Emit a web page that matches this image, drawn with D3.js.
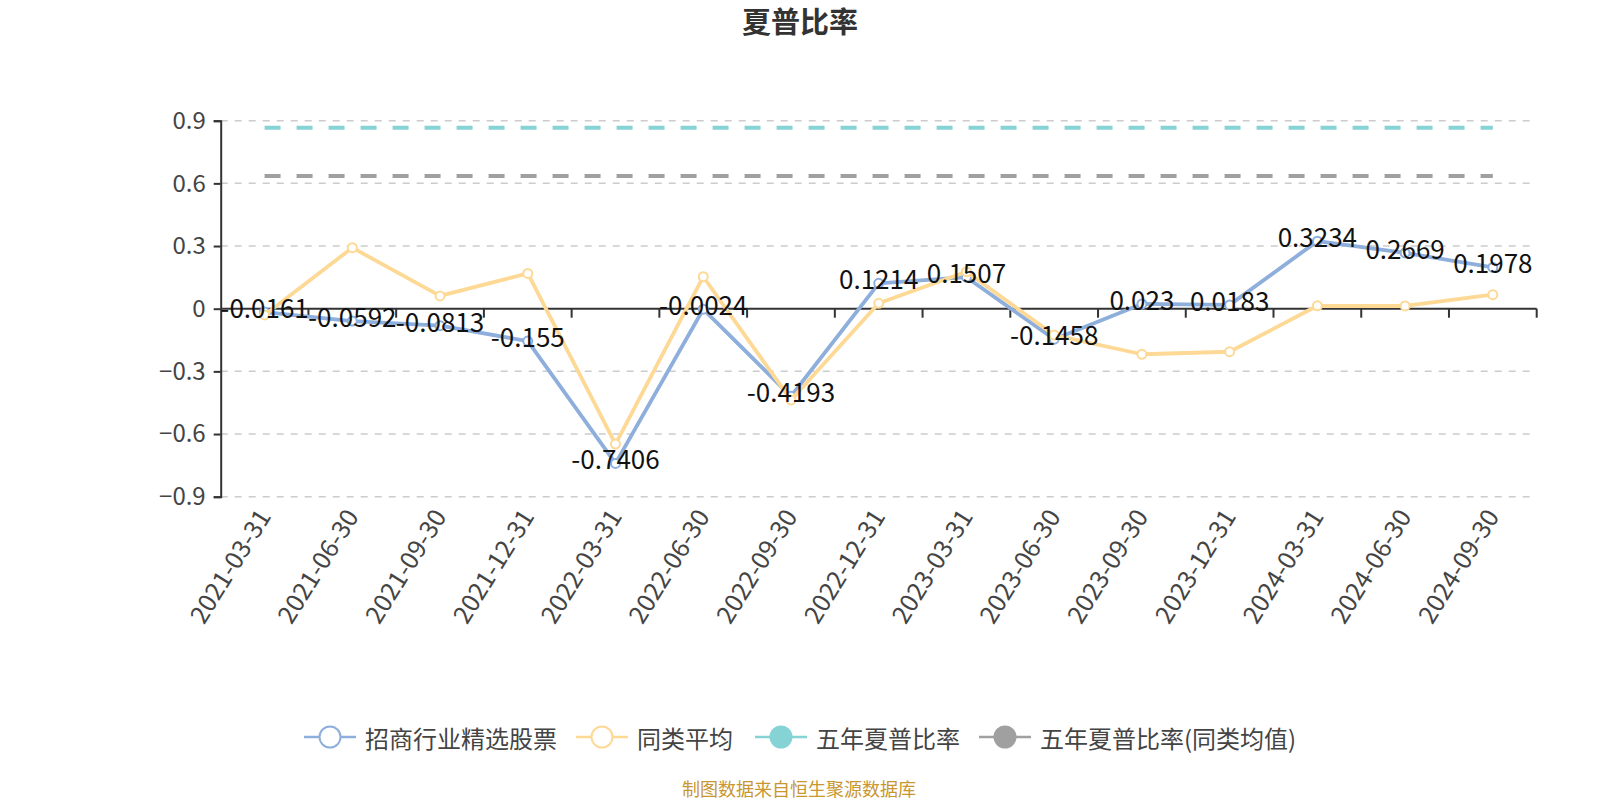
<!DOCTYPE html>
<html>
<head>
<meta charset="utf-8">
<script src="https://cdn.jsdelivr.net/npm/d3@7/dist/d3.min.js"></script>
<style>
  body { margin: 0; background: #fff; }
  svg { display: block; font-family: "Noto Sans CJK SC", "Noto Sans", sans-serif; }
</style>
</head>
<body>
<script>
var categories = [
  "2021-03-31", "2021-06-30", "2021-09-30", "2021-12-31", "2022-03-31",
  "2022-06-30", "2022-09-30", "2022-12-31", "2023-03-31", "2023-06-30",
  "2023-09-30", "2023-12-31", "2024-03-31", "2024-06-30", "2024-09-30"
];
var fundValues = [
  -0.0161, -0.0592, -0.0813, -0.155, -0.7406, -0.0024, -0.4193, 0.1214,
  0.1507, -0.1458, 0.023, 0.0183, 0.3234, 0.2669, 0.1978
];
var peerValues = [
  -0.03, 0.292, 0.061, 0.169, -0.648, 0.153, -0.437, 0.026,
  0.177, -0.126, -0.218, -0.206, 0.014, 0.013, 0.067
];
var fiveYearFund = 0.866;
var fiveYearPeer = 0.635;
var yTicks = [0.9, 0.6, 0.3, 0, -0.3, -0.6, -0.9];
var seriesNames = ["招商行业精选股票", "同类平均", "五年夏普比率", "五年夏普比率(同类均值)"];

(function(d3) {
  var W = 1600, H = 800;
  var gLeft = 220.7, gRight = 1536.7, gTop = 120.7, gBottom = 496.7;
  var colors = { fund: "#8eaedb", peer: "#fdd995", fund5: "#86d3d6", peer5: "#a0a0a0" };

  var svg = d3.select("body").append("svg").attr("width", W).attr("height", H);

  var x = d3.scaleBand().domain(categories).range([gLeft, gRight]).padding(0);
  var y = d3.scaleLinear().domain([-0.9, 0.9]).range([gBottom, gTop]);
  var cx = function(d) { return x(d) + x.bandwidth() / 2; };

  // title
  svg.append("text")
    .attr("x", 800).attr("y", 33)
    .attr("text-anchor", "middle")
    .attr("font-size", 29).attr("font-weight", "bold").attr("fill", "#333")
    .text("夏普比率");

  // grid
  svg.append("g").selectAll("line")
    .data(yTicks.filter(function(v) { return v !== 0; }))
    .enter().append("line")
    .attr("x1", gLeft).attr("x2", gRight)
    .attr("y1", function(d) { return y(d); }).attr("y2", function(d) { return y(d); })
    .attr("stroke", "#ccc").attr("stroke-width", 1.5).attr("stroke-dasharray", "7,7");

  // y axis
  var yAxis = svg.append("g")
    .attr("transform", "translate(" + gLeft + ",0)")
    .call(d3.axisLeft(y).tickValues(yTicks).tickSize(7).tickPadding(8)
      .tickFormat(function(d) { return d === 0 ? "0" : d3.format(".1f")(d); }));
  yAxis.select(".domain").attr("stroke", "#333").attr("stroke-width", 2);
  yAxis.selectAll(".tick line").attr("stroke", "#333").attr("stroke-width", 2);
  yAxis.selectAll(".tick text").attr("font-size", 24).attr("fill", "#444")
    .attr("font-family", "\"Noto Sans CJK SC\", sans-serif");

  // x axis line at zero, ticks at band edges, labels at the bottom
  var xAxis = svg.append("g");
  xAxis.append("line")
    .attr("x1", gLeft).attr("x2", gRight)
    .attr("y1", y(0)).attr("y2", y(0))
    .attr("stroke", "#333").attr("stroke-width", 2);
  xAxis.selectAll(".xtick")
    .data(categories.map(function(c) { return x(c); }).concat([gRight]).slice(1))
    .enter().append("line")
    .attr("x1", function(d) { return d; }).attr("x2", function(d) { return d; })
    .attr("y1", y(0)).attr("y2", y(0) + 9)
    .attr("stroke", "#333").attr("stroke-width", 2);
  xAxis.selectAll(".xlabel")
    .data(categories)
    .enter().append("text")
    .attr("transform", function(d) { return "translate(" + (cx(d) - 2) + "," + (gBottom + 14) + ") rotate(-58)"; })
    .attr("text-anchor", "end")
    .attr("dominant-baseline", "central")
    .attr("font-size", 25).attr("fill", "#444")
    .text(function(d) { return d; });

  // five-year mark lines
  [[fiveYearFund, colors.fund5], [fiveYearPeer, colors.peer5]].forEach(function(m) {
    svg.append("line")
      .attr("x1", cx(categories[0])).attr("x2", cx(categories[categories.length - 1]))
      .attr("y1", y(m[0])).attr("y2", y(m[0]))
      .attr("stroke", m[1]).attr("stroke-width", 4).attr("stroke-dasharray", "16,16");
  });

  var line = d3.line()
    .x(function(d, i) { return cx(categories[i]); })
    .y(function(d) { return y(d); });

  function drawSeries(values, color) {
    svg.append("path").datum(values)
      .attr("d", line).attr("fill", "none")
      .attr("stroke", color).attr("stroke-width", 3.8).attr("stroke-linejoin", "round");
    svg.append("g").selectAll("circle").data(values).enter().append("circle")
      .attr("cx", function(d, i) { return cx(categories[i]); })
      .attr("cy", function(d) { return y(d); })
      .attr("r", 4.5).attr("fill", "#fff").attr("stroke", color).attr("stroke-width", 2);
  }
  drawSeries(fundValues, colors.fund);
  drawSeries(peerValues, colors.peer);

  // data labels
  svg.append("g").selectAll("text").data(fundValues).enter().append("text")
    .attr("x", function(d, i) { return cx(categories[i]); })
    .attr("y", function(d) { return y(d) + 6; })
    .attr("text-anchor", "middle")
    .attr("font-size", 26).attr("fill", "#111")
    .text(function(d) { return String(d); });

  // legend
  var legendItems = [
    { name: seriesNames[0], color: colors.fund, x: 304, filled: false },
    { name: seriesNames[1], color: colors.peer, x: 576, filled: false },
    { name: seriesNames[2], color: colors.fund5, x: 755, filled: true },
    { name: seriesNames[3], color: colors.peer5, x: 979, filled: true }
  ];
  var ly = 737;
  var lg = svg.append("g").selectAll("g").data(legendItems).enter().append("g")
    .attr("transform", function(d) { return "translate(" + d.x + "," + ly + ")"; });
  lg.append("line").attr("x1", 0).attr("x2", 52).attr("y1", 0).attr("y2", 0)
    .attr("stroke", function(d) { return d.color; }).attr("stroke-width", 2.5);
  lg.append("circle").attr("cx", 26).attr("cy", 0).attr("r", 10.5)
    .attr("fill", function(d) { return d.filled ? d.color : "#fff"; })
    .attr("stroke", function(d) { return d.color; }).attr("stroke-width", 2);
  lg.append("text").attr("x", 61).attr("y", 0)
    .attr("dominant-baseline", "central")
    .attr("font-size", 24).attr("fill", "#444")
    .text(function(d) { return d.name; });

  // footer
  svg.append("text")
    .attr("x", 799).attr("y", 796)
    .attr("text-anchor", "middle")
    .attr("font-size", 18).attr("fill", "#c8972f")
    .text("制图数据来自恒生聚源数据库");
})(d3);
</script>
</body>
</html>
